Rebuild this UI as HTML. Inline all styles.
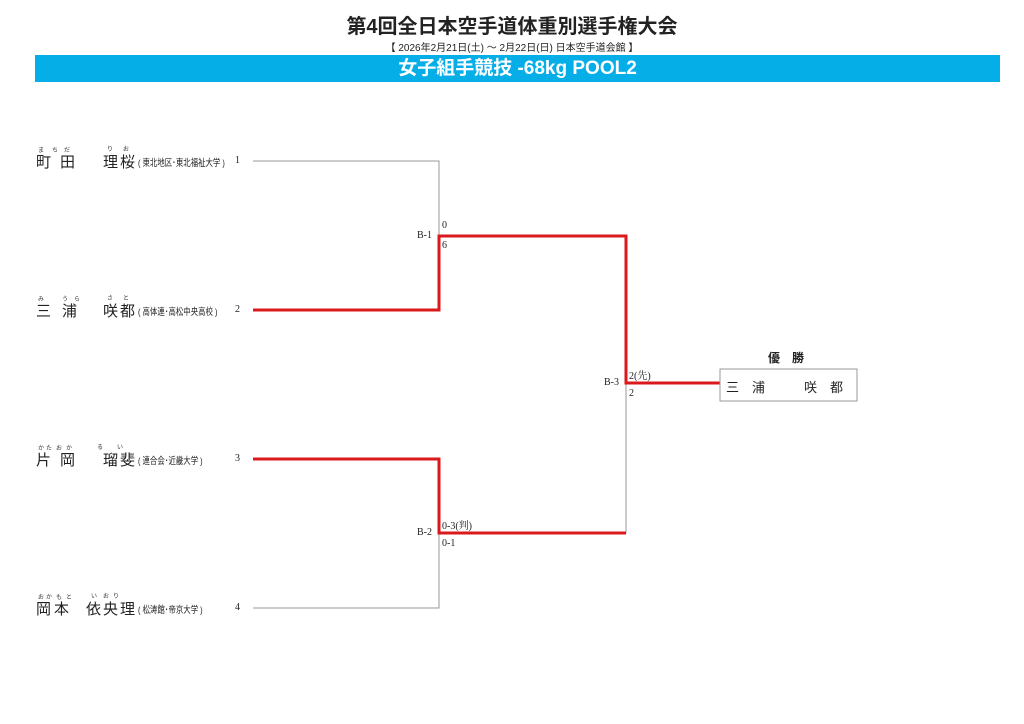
<!DOCTYPE html>
<html><head><meta charset="utf-8"><style>
body{margin:0;width:1024px;height:724px;background:#fff;position:relative;overflow:hidden;font-family:"Liberation Sans","Noto Sans CJK JP",sans-serif;color:#222}
.a{position:absolute;white-space:nowrap}
.c{position:absolute;font-size:15px;line-height:15px}
.fu{position:absolute;font-size:6px;color:#333;line-height:6px}
.af{font-size:9.5px;transform:scaleX(0.78);transform-origin:0 0}
.sm{font-size:10px;font-family:"Liberation Serif","Noto Serif CJK SC",serif}
</style></head><body>
<div class="a" style="left:0;width:1024px;top:10px;text-align:center;font-size:20px;font-weight:bold">第4回全日本空手道体重別選手権大会</div>
<div class="a" style="left:0;width:1024px;top:39px;text-align:center;font-size:10px">【 2026年2月21日(土) ～ 2月22日(日)  日本空手道会館 】</div>
<div class="a" style="left:35px;width:965px;top:55px;height:27px;background:#06aee8;color:#fff;text-align:center;font-size:19px;font-weight:bold;line-height:27px">女子組手競技 -68kg POOL2</div>

<svg class="a" style="left:0;top:0" width="1024" height="724">
<g fill="none" stroke="#999" stroke-width="1">
<path d="M253 161H439V236"/><path d="M253 608H439V533"/><path d="M626 383V533"/>
</g>
<g fill="none" stroke="#d9191c" stroke-width="3">
<path d="M253 310H439V236H626V383H720"/><path d="M253 459H439V533H626"/>
</g>
<rect x="720" y="369" width="137" height="32" fill="none" stroke="#999"/>
</svg>

<!-- 1 -->
<div class="fu" style="left:38px;top:148px">ま</div><div class="fu" style="left:52px;top:148px">ち</div><div class="fu" style="left:64px;top:148px">だ</div><div class="fu" style="left:107px;top:147px">り</div><div class="fu" style="left:123px;top:147px">お</div>
<div class="c" style="left:36px;top:155px">町</div><div class="c" style="left:60px;top:155px">田</div><div class="c" style="left:103px;top:155px">理</div><div class="c" style="left:120px;top:155px">桜</div>
<div class="a af" style="left:138px;top:155px">( 東北地区･東北福祉大学 )</div>
<div class="a sm" style="left:235px;top:155px">1</div>
<!-- 2 -->
<div class="fu" style="left:38px;top:297px">み</div><div class="fu" style="left:62px;top:297px">う</div><div class="fu" style="left:74px;top:297px">ら</div><div class="fu" style="left:107px;top:296px">さ</div><div class="fu" style="left:123px;top:296px">と</div>
<div class="c" style="left:36px;top:304px">三</div><div class="c" style="left:62px;top:304px">浦</div><div class="c" style="left:103px;top:304px">咲</div><div class="c" style="left:120px;top:304px">都</div>
<div class="a af" style="left:138px;top:304px">( 高体連･高松中央高校 )</div>
<div class="a sm" style="left:235px;top:304px">2</div>
<!-- 3 -->
<div class="fu" style="left:38px;top:446px">か</div><div class="fu" style="left:46px;top:446px">た</div><div class="fu" style="left:56px;top:446px">お</div><div class="fu" style="left:66px;top:446px">か</div><div class="fu" style="left:97px;top:445px">る</div><div class="fu" style="left:117px;top:445px">い</div>
<div class="c" style="left:36px;top:453px">片</div><div class="c" style="left:60px;top:453px">岡</div><div class="c" style="left:103px;top:453px">瑠</div><div class="c" style="left:120px;top:453px">斐</div>
<div class="a af" style="left:138px;top:453px">( 連合会･近畿大学 )</div>
<div class="a sm" style="left:235px;top:453px">3</div>
<!-- 4 -->
<div class="fu" style="left:38px;top:595px">お</div><div class="fu" style="left:46px;top:595px">か</div><div class="fu" style="left:56px;top:595px">も</div><div class="fu" style="left:66px;top:595px">と</div><div class="fu" style="left:91px;top:594px">い</div><div class="fu" style="left:103px;top:594px">お</div><div class="fu" style="left:113px;top:594px">り</div>
<div class="c" style="left:36px;top:602px">岡</div><div class="c" style="left:54px;top:602px">本</div><div class="c" style="left:86px;top:602px">依</div><div class="c" style="left:103px;top:602px">央</div><div class="c" style="left:120px;top:602px">理</div>
<div class="a af" style="left:138px;top:602px">( 松涛館･帝京大学 )</div>
<div class="a sm" style="left:235px;top:602px">4</div>

<div class="a sm" style="left:417px;top:230px">B-1</div>
<div class="a sm" style="left:442px;top:220px">0</div>
<div class="a sm" style="left:442px;top:240px">6</div>
<div class="a sm" style="left:417px;top:527px">B-2</div>
<div class="a sm" style="left:442px;top:517px">0-3(判)</div>
<div class="a sm" style="left:442px;top:538px">0-1</div>
<div class="a sm" style="left:604px;top:377px">B-3</div>
<div class="a sm" style="left:629px;top:367px">2(先)</div>
<div class="a sm" style="left:629px;top:388px">2</div>

<div class="a" style="left:768px;top:349px;font-size:12px;font-weight:bold">優　勝</div>
<div class="a" style="left:726px;top:377px;font-size:13px">三　浦　　　咲　都</div>
</body></html>
